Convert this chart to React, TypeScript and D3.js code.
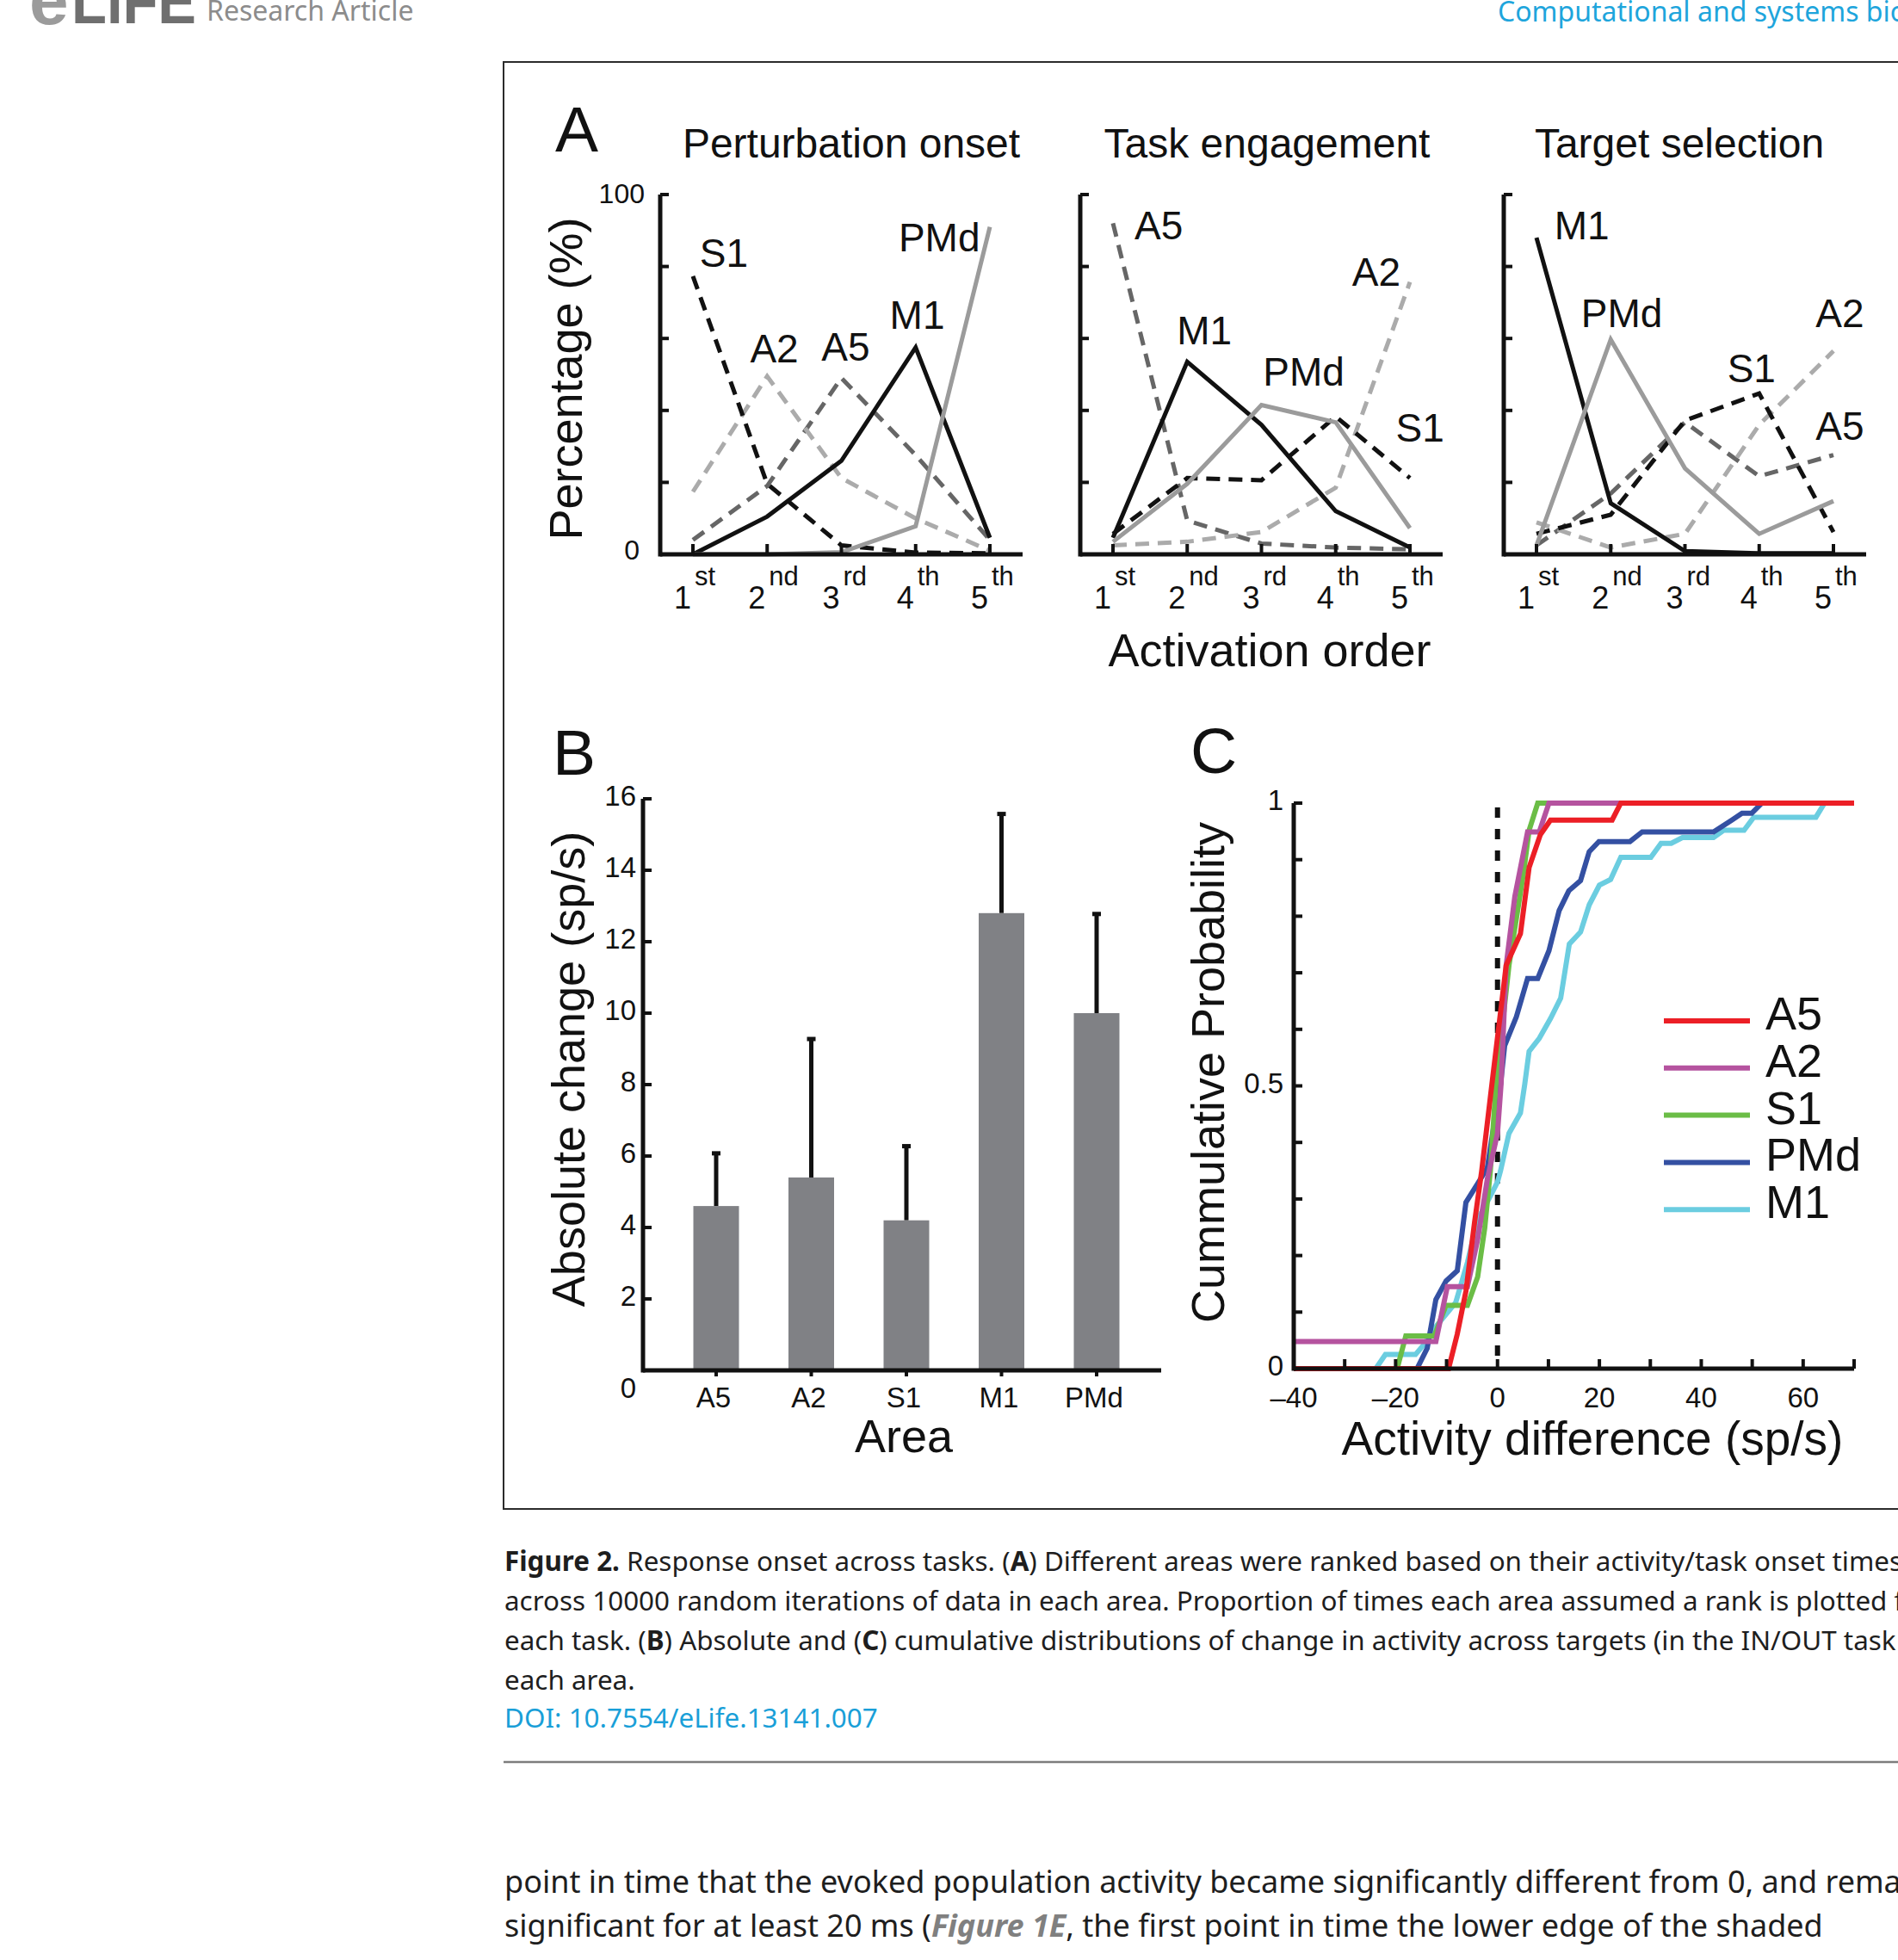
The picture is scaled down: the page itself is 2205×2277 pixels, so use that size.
import React from 'react';
import * as d3 from 'd3';

// ---------- Panel A data: % of iterations at each activation rank ----------
const RANKS = ['1', '2', '3', '4', '5'];
const RANK_SUFFIX = ['st', 'nd', 'rd', 'th', 'th'];
const AREAS = ['A5', 'A2', 'S1', 'M1', 'PMd'];
const TASKS = ['Perturbation onset', 'Task engagement', 'Target selection'];

const pertA5 = [4, 19, 49, 27.6, 4];
const pertA2 = [17.4, 49.5, 21.2, 10, 1];
const pertS1 = [77.3, 19.6, 2.5, 0.5, 0.3];
const pertM1 = [0, 10.5, 26, 57.5, 4.6];
const pertPMd = [0, 0, 0.6, 7.8, 91];

const engA5 = [92, 9.4, 3, 1.9, 1.4];
const engA2 = [2.5, 3.5, 6.2, 18.5, 75.7];
const engS1 = [5.7, 21.2, 20.6, 38.3, 21.2];
const engM1 = [4.6, 53.5, 36, 12, 1.9];
const engPMd = [3.5, 19.6, 41.5, 36.7, 7.3];

const selA5 = [2.5, 16.9, 36.7, 21.7, 27.6];
const selA2 = [8.9, 1.9, 5.7, 36, 56.5];
const selS1 = [5.7, 11, 37.2, 44.7, 6.2];
const selM1 = [88, 14.2, 0.9, 0.3, 0.3];
const selPMd = [2.5, 59.7, 23.9, 5.7, 14.8];

// line labels in data space: [area, rank position (0 = 1st), percentage]
const pertLabels: [string, number, number][] = [['S1', 0.09, 80], ['PMd', 2.77, 84.3], ['M1', 2.65, 62.7], ['A2', 0.77, 53.4], ['A5', 1.73, 53.8]];
const engLabels: [string, number, number][] = [['A5', 0.29, 87.5], ['A2', 3.22, 74.7], ['M1', 0.86, 58.4], ['PMd', 2.02, 46.9], ['S1', 3.81, 31.3]];
const selLabels: [string, number, number][] = [['M1', 0.24, 87.5], ['PMd', 0.6, 63.2], ['A2', 3.76, 63.2], ['S1', 2.57, 47.9], ['A5', 3.76, 31.9]];

// ---------- Panel B data ----------
const barMeans = [4.6, 5.4, 4.2, 12.8, 10.0];
const barErrors = [1.5, 3.9, 2.1, 2.8, 2.8];
const barTicks = [0, 2, 4, 6, 8, 10, 12, 14, 16];

// ---------- Panel C data: cumulative distributions ----------
const cdfA5x = [-40, -9.6, -7.9, -6.2, -4.5, -3.1, -1.1, 1.7, 4.5, 6.2, 8.4, 10.4, 22.5, 24.2, 70];
const cdfA5y = [0, 0, 0.061, 0.137, 0.259, 0.35, 0.503, 0.713, 0.769, 0.886, 0.944, 0.97, 0.97, 1, 1];
const cdfA2x = [-40, -12.1, -9.85, -5.9, -3.9, -2.0, 0, 0.7, 1.7, 3.4, 5.9, 8.2, 10.1, 70];
const cdfA2y = [0.048, 0.048, 0.145, 0.145, 0.228, 0.335, 0.416, 0.503, 0.713, 0.835, 0.949, 0.949, 1, 1];
const cdfS1x = [-40, -19.7, -18.0, -12.4, -10.1, -5.9, -3.9, -2.5, -1.4, -0.3, 2.25, 5.1, 6.2, 7.9, 70];
const cdfS1y = [0, 0, 0.058, 0.058, 0.112, 0.112, 0.162, 0.249, 0.35, 0.503, 0.713, 0.876, 0.952, 1, 1];
const cdfPMdx = [-40, -15.8, -13.8, -12.1, -10.1, -7.9, -6.2, -3.9, -2.0, -0.6, 0.6, 1.4, 3.7, 5.9, 7.9, 10.1, 12.1, 14.0, 16.3, 18.0, 19.9, 26.0, 28.4, 42.4, 46.0, 48.0, 49.9, 51.9, 70];
const cdfPMdy = [0, 0, 0.036, 0.122, 0.155, 0.173, 0.294, 0.327, 0.355, 0.437, 0.503, 0.571, 0.622, 0.69, 0.69, 0.739, 0.81, 0.845, 0.863, 0.914, 0.932, 0.932, 0.949, 0.949, 0.97, 0.982, 0.982, 1, 1];
const cdfM1x = [-40, -23.9, -22.0, -16.1, -14.4, -12.4, -10.1, -8.2, -5.9, -3.9, -1.7, 0, 0.6, 2.25, 4.5, 5.35, 6.2, 8.2, 10.4, 12.4, 14.1, 16.3, 18.0, 20.0, 22.2, 24.2, 30.1, 32.1, 34.1, 36.3, 42.4, 44.4, 48.4, 50.3, 62.5, 64.2, 70];
const cdfM1y = [0, 0, 0.025, 0.025, 0.043, 0.071, 0.096, 0.117, 0.188, 0.264, 0.30, 0.33, 0.35, 0.416, 0.452, 0.503, 0.561, 0.584, 0.619, 0.655, 0.751, 0.772, 0.82, 0.855, 0.865, 0.904, 0.904, 0.929, 0.929, 0.939, 0.939, 0.952, 0.952, 0.975, 0.975, 1, 1];
const cdfLegend = ['A5', 'A2', 'S1', 'PMd', 'M1'];
const cdfXTicks = [-40, -20, 0, 20, 40, 60];
const cdfYTickLabels = [0, 0.5, 1];

const FONT = "'Liberation Sans', Arial, Helvetica, sans-serif";
const TEXT_FONT = "'Noto Sans', 'Open Sans', sans-serif";

const areaStyleA: Record<string, { stroke: string; dash?: string }> = {
  A5: { stroke: '#666666', dash: '16,10' },
  A2: { stroke: '#ababab', dash: '16,10' },
  S1: { stroke: '#111111', dash: '16,10' },
  M1: { stroke: '#111111' },
  PMd: { stroke: '#9b9b9b' },
};
const drawOrderA = ['A5', 'A2', 'S1', 'M1', 'PMd'];

const cdfColors: Record<string, string> = {
  A5: '#ec1f26',
  A2: '#b5539f',
  S1: '#6bbd46',
  PMd: '#3450a2',
  M1: '#6bcde0',
};

function PanelA() {
  const axisX = [767, 1255, 1747];
  const titleX = [989, 1472, 1951];
  const y = d3.scaleLinear().domain([0, 100]).range([644, 226]);
  const datasets: Record<string, number[]>[] = [
    { A5: pertA5, A2: pertA2, S1: pertS1, M1: pertM1, PMd: pertPMd },
    { A5: engA5, A2: engA2, S1: engS1, M1: engM1, PMd: engPMd },
    { A5: selA5, A2: selA2, S1: selS1, M1: selM1, PMd: selPMd },
  ];
  const labels = [pertLabels, engLabels, selLabels];
  const yTicks = d3.range(0, 101, 20);
  return (
    <g fontFamily={FONT} fill="#111">
      <text x={645} y={176} fontSize={75}>A</text>
      <text transform="translate(676,440) rotate(-90)" textAnchor="middle" fontSize={54}>Percentage (%)</text>
      <text x={1475} y={774} textAnchor="middle" fontSize={54}>Activation order</text>
      {TASKS.map((task, i) => {
        const ax = axisX[i];
        const x = d3.scalePoint<string>().domain(RANKS).range([ax + 38, ax + 383]);
        const step = x.step();
        const line = d3.line<number>().x((_, j) => x(RANKS[j]) as number).y((d) => y(d));
        const data = datasets[i];
        return (
          <g key={task}>
            <text x={titleX[i]} y={183} textAnchor="middle" fontSize={48}>{task}</text>
            {drawOrderA.map((a) => (
              <path key={a} d={line(data[a]) || ''} fill="none" stroke={areaStyleA[a].stroke}
                strokeWidth={5} strokeDasharray={areaStyleA[a].dash} strokeLinejoin="miter" />
            ))}
            <line x1={ax} y1={y(100)} x2={ax} y2={y(0) + 2.5} stroke="#111" strokeWidth={5} />
            <line x1={ax} y1={y(0)} x2={ax + 421} y2={y(0)} stroke="#111" strokeWidth={5} />
            {yTicks.map((t) => (
              <line key={t} x1={ax} x2={ax + 10} y1={y(t)} y2={y(t)} stroke="#111" strokeWidth={4} />
            ))}
            {RANKS.map((r) => (
              <line key={r} x1={x(r)} x2={x(r)} y1={y(0)} y2={y(0) - 12} stroke="#111" strokeWidth={4} />
            ))}
            {i === 0 && (
              <g fontSize={32}>
                <text x={ax - 18} y={y(100) + 10} textAnchor="end">100</text>
                <text x={ax - 24} y={y(0) + 6} textAnchor="end">0</text>
              </g>
            )}
            {RANKS.map((r, j) => (
              <g key={'l' + r}>
                <text x={(x(r) as number) - 2} y={707} textAnchor="end" fontSize={36}>{r}</text>
                <text x={(x(r) as number) + 2} y={680} textAnchor="start" fontSize={31}>{RANK_SUFFIX[j]}</text>
              </g>
            ))}
            {labels[i].map(([name, pos, pct]) => (
              <text key={'n' + name} x={(x(RANKS[0]) as number) + pos * step} y={y(pct)} fontSize={46}>{name}</text>
            ))}
          </g>
        );
      })}
    </g>
  );
}

function PanelB() {
  const y = d3.scaleLinear().domain([0, 16]).range([1592, 928]);
  const x = d3.scalePoint<string>().domain(AREAS).range([832, 1274]);
  const bw = 53;
  const ax = 747;
  return (
    <g fontFamily={FONT} fill="#111">
      <text x={642} y={900} fontSize={75}>B</text>
      <text transform="translate(679,1242) rotate(-90)" textAnchor="middle" fontSize={54}>Absolute change (sp/s)</text>
      <text x={1050} y={1687} textAnchor="middle" fontSize={54}>Area</text>
      {AREAS.map((a, i) => {
        const cx = x(a) as number;
        const top = y(barMeans[i]);
        const et = y(barMeans[i] + barErrors[i]);
        return (
          <g key={a}>
            <line x1={cx} x2={cx} y1={top} y2={et} stroke="#111" strokeWidth={5} />
            <line x1={cx - 5} x2={cx + 5} y1={et + 1} y2={et + 1} stroke="#111" strokeWidth={5} />
            <rect x={cx - bw / 2} y={top} width={bw} height={y(0) - top} fill="#808185" />
            <line x1={cx} x2={cx} y1={y(0)} y2={y(0) + 7} stroke="#111" strokeWidth={4} />
            <text x={cx - 3} y={1635} textAnchor="middle" fontSize={33}>{a}</text>
          </g>
        );
      })}
      <line x1={ax} x2={ax} y1={y(16)} y2={y(0) + 2.5} stroke="#111" strokeWidth={5} />
      <line x1={ax} x2={1349} y1={y(0)} y2={y(0)} stroke="#111" strokeWidth={5} />
      {barTicks.map((t) => (
        <g key={t}>
          <line x1={ax} x2={ax + 10} y1={y(t)} y2={y(t)} stroke="#111" strokeWidth={4} />
          <text x={739} y={y(t) + (t === 0 ? 32 : 8)} textAnchor="end" fontSize={33}>{t}</text>
        </g>
      ))}
    </g>
  );
}

function PanelC() {
  const x = d3.scaleLinear().domain([-40, 70]).range([1503, 2154]);
  const y = d3.scaleLinear().domain([0, 1]).range([1590, 933]);
  const series: Record<string, [number[], number[]]> = {
    A5: [cdfA5x, cdfA5y],
    A2: [cdfA2x, cdfA2y],
    S1: [cdfS1x, cdfS1y],
    PMd: [cdfPMdx, cdfPMdy],
    M1: [cdfM1x, cdfM1y],
  };
  const drawOrder = ['M1', 'PMd', 'S1', 'A2', 'A5'];
  const line = d3.line<[number, number]>().x((d) => x(d[0])).y((d) => y(d[1]));
  const ax = x(-40);
  return (
    <g fontFamily={FONT} fill="#111">
      <text x={1383} y={898} fontSize={75}>C</text>
      <text transform="translate(1422,1246) rotate(-90)" textAnchor="middle" fontSize={54}>Cummulative Probability</text>
      <text x={1850} y={1690} textAnchor="middle" fontSize={55}>Activity difference (sp/s)</text>
      <line x1={x(0)} x2={x(0)} y1={y(1) + 5} y2={y(0)} stroke="#111" strokeWidth={6} strokeDasharray="12,13" />
      {drawOrder.map((k) => {
        const [xs, ys] = series[k];
        const pts = xs.map((v, i) => [v, ys[i]] as [number, number]);
        return <path key={k} d={line(pts) || ''} fill="none" stroke={cdfColors[k]} strokeWidth={6} strokeLinejoin="miter" />;
      })}
      <line x1={ax} x2={ax} y1={y(1)} y2={y(0) + 2.5} stroke="#111" strokeWidth={5} />
      <line x1={ax} x2={x(70)} y1={y(0)} y2={y(0)} stroke="#111" strokeWidth={5} />
      {d3.range(0, 1.0001, 0.1).map((t) => (
        <line key={'yt' + t} x1={ax} x2={ax + 10} y1={y(t)} y2={y(t)} stroke="#111" strokeWidth={4} />
      ))}
      {d3.range(-40, 70.001, 10).map((t) => (
        <line key={'xt' + t} x1={x(t)} x2={x(t)} y1={y(0)} y2={y(0) - 11} stroke="#111" strokeWidth={4} />
      ))}
      {cdfYTickLabels.map((t) => (
        <text key={'yl' + t} x={1491} y={y(t) + 8} textAnchor="end" fontSize={33}>{String(t)}</text>
      ))}
      {cdfXTicks.map((t) => (
        <text key={'xl' + t} x={x(t)} y={1635} textAnchor="middle" fontSize={33}>{t < 0 ? '\u2013' + Math.abs(t) : String(t)}</text>
      ))}
      {cdfLegend.map((k, i) => {
        const ly = 1186 + i * 54.8;
        return (
          <g key={'lg' + k}>
            <line x1={1933} x2={2033} y1={ly} y2={ly} stroke={cdfColors[k]} strokeWidth={6} />
            <text x={2051} y={ly + 10} fontSize={54}>{k}</text>
          </g>
        );
      })}
    </g>
  );
}

function Header() {
  return (
    <g>
      <text x={34} y={28} fontFamily={FONT} fontWeight={700} fontSize={82} fill="#9b9b9b">e</text>
      <text x={83} y={27} fontFamily={FONT} fontWeight={900} fontSize={74} fill="#6f6f6f" textLength={145} lengthAdjust="spacingAndGlyphs">LIFE</text>
      <text x={240} y={24} fontFamily={TEXT_FONT} fontSize={32} fill="#8c8c8c">Research Article</text>
      <text x={1740} y={25} fontFamily={TEXT_FONT} fontSize={32} fill="#1ea5dc">Computational and systems biology</text>
    </g>
  );
}

function Caption() {
  const fs = 31.4;
  return (
    <g fontFamily={TEXT_FONT} fill="#1e1e1e">
      <text x={586} y={1825} fontSize={fs}>
        <tspan fontWeight={700}>Figure 2.</tspan> Response onset across tasks. (<tspan fontWeight={700}>A</tspan>) Different areas were ranked based on their activity/task onset times
      </text>
      <text x={586} y={1871} fontSize={fs}>across 10000 random iterations of data in each area. Proportion of times each area assumed a rank is plotted for</text>
      <text x={586} y={1917} fontSize={fs}>
        each task. (<tspan fontWeight={700}>B</tspan>) Absolute and (<tspan fontWeight={700}>C</tspan>) cumulative distributions of change in activity across targets (in the IN/OUT task
      </text>
      <text x={586} y={1963} fontSize={fs}>each area.</text>
      <text x={586} y={2007} fontSize={fs} fill="#1a9fd8">DOI: 10.7554/eLife.13141.007</text>
      <line x1={585} x2={2205} y1={2047} y2={2047} stroke="#7d7d7d" strokeWidth={2.5} />
      <text x={586} y={2199} fontSize={36}>point in time that the evoked population activity became significantly different from 0, and remained</text>
      <text x={586} y={2250} fontSize={36}>
        significant for at least 20 ms (<tspan fontWeight={700} fontStyle="italic" fill="#808080">Figure 1E</tspan>, the first point in time the lower edge of the shaded
      </text>
    </g>
  );
}

export default function App() {
  const W = 2205;
  const H = 2277;
  return (
    <svg width={W} height={H} viewBox={`0 0 ${W} ${H}`} style={{ position: 'absolute', left: 0, top: 0, display: 'block' }}>
      <rect width={W} height={H} fill="#ffffff" />
      <Header />
      <rect x={585} y={72} width={1700} height={1681} fill="none" stroke="#2b2b2b" strokeWidth={2} />
      <PanelA />
      <PanelB />
      <PanelC />
      <Caption />
    </svg>
  );
}
